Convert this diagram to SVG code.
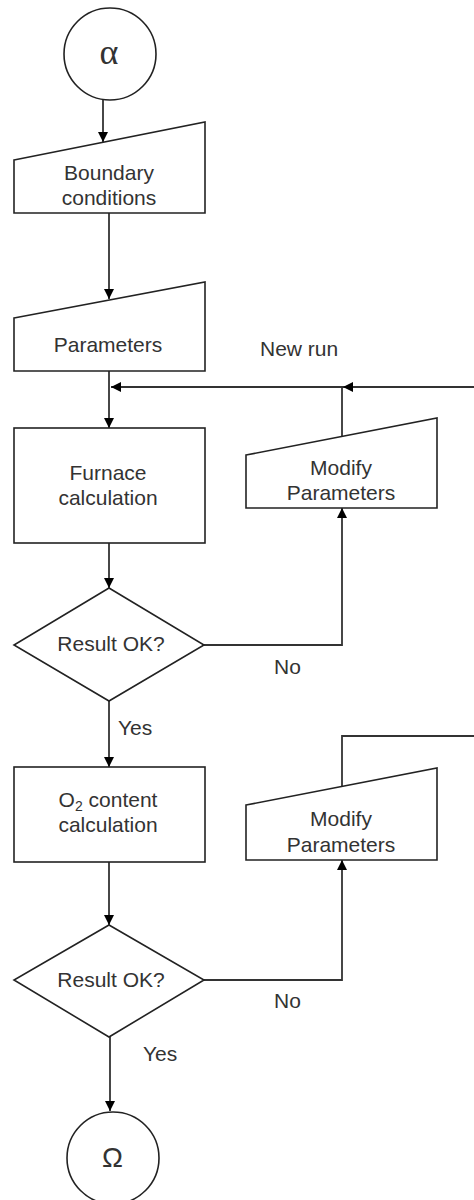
<svg xmlns="http://www.w3.org/2000/svg" width="474" height="1200" viewBox="0 0 474 1200">
<style>
.shape{fill:#fff;stroke:#222;stroke-width:1.6}
.conn{fill:none;stroke:#333;stroke-width:1.8}
.t{font-family:"Liberation Sans",Arial,sans-serif;font-size:21px;fill:#333;text-anchor:middle}
.l{font-family:"Liberation Sans",Arial,sans-serif;font-size:21px;fill:#333}
</style>
<defs>
<marker id="arr" viewBox="0 0 10 10" refX="10" refY="5" markerWidth="10" markerHeight="10" markerUnits="userSpaceOnUse" orient="auto">
<path d="M0,0 L10,5 L0,10 Z" fill="#000"/>
</marker>
</defs>
<rect width="474" height="1200" fill="#fff"/>
<g id="connectors">
<path class="conn" d="M103,100 V142" marker-end="url(#arr)"/>
<path class="conn" d="M109,213 V299" marker-end="url(#arr)"/>
<path class="conn" d="M109,371 V428" marker-end="url(#arr)"/>
<path class="conn" d="M109,543 V588" marker-end="url(#arr)"/>
<path class="conn" d="M109,701 V767" marker-end="url(#arr)"/>
<path class="conn" d="M109,862 V925" marker-end="url(#arr)"/>
<path class="conn" d="M110,1037 V1111" marker-end="url(#arr)"/>
<path class="conn" d="M474,387 H343" marker-end="url(#arr)"/>
<path class="conn" d="M343,387 H111" marker-end="url(#arr)"/>
<path class="conn" d="M342,437 V387"/>
<path class="conn" d="M204,645 H342 V508" marker-end="url(#arr)"/>
<path class="conn" d="M342,787 V736 H474"/>
<path class="conn" d="M204,980 H342 V860" marker-end="url(#arr)"/>
<text class="l" x="260" y="356">New run</text>
<text class="l" x="274" y="674">No</text>
<text class="l" x="118" y="735">Yes</text>
<text class="l" x="274" y="1008">No</text>
<text class="l" x="143" y="1061">Yes</text>
</g>
<g id="start">
<circle class="shape" cx="110" cy="54" r="46"/>
<text x="109" y="64" font-family="'Liberation Serif','Times New Roman',serif" font-size="36" fill="#333" text-anchor="middle">α</text>
</g>
<g id="boundary">
<path class="shape" d="M14,160 L205,122 L205,213 L14,213 Z"/>
<text class="t" x="109" y="180">Boundary</text>
<text class="t" x="109" y="205">conditions</text>
</g>
<g id="parameters">
<path class="shape" d="M14,318 L205,282 L205,371 L14,371 Z"/>
<text class="t" x="108" y="352">Parameters</text>
</g>
<g id="furnace">
<rect class="shape" x="14" y="428" width="191" height="115"/>
<text class="t" x="108" y="480">Furnace</text>
<text class="t" x="108" y="505">calculation</text>
</g>
<g id="decision1">
<path class="shape" d="M109,588 L204,645 L109,701 L14,645 Z"/>
<text class="t" x="111" y="651">Result OK?</text>
</g>
<g id="modify1">
<path class="shape" d="M246,455 L437,418 L437,508 L246,508 Z"/>
<text class="t" x="341" y="475">Modify</text>
<text class="t" x="341" y="500">Parameters</text>
</g>
<g id="o2calc">
<rect class="shape" x="14" y="767" width="191" height="95"/>
<text class="t" x="108" y="807">O<tspan font-size="14" dy="4">2</tspan><tspan dy="-4"> content</tspan></text>
<text class="t" x="108" y="832">calculation</text>
</g>
<g id="decision2">
<path class="shape" d="M109,925 L204,980 L109,1037 L14,980 Z"/>
<text class="t" x="111" y="987">Result OK?</text>
</g>
<g id="modify2">
<path class="shape" d="M246,805 L437,768 L437,860 L246,860 Z"/>
<text class="t" x="341" y="826">Modify</text>
<text class="t" x="341" y="852">Parameters</text>
</g>
<g id="end">
<circle class="shape" cx="113" cy="1158" r="46"/>
<text x="112.5" y="1167" font-family="'Liberation Sans',Arial,sans-serif" font-size="28" fill="#333" text-anchor="middle">Ω</text>
</g>
</svg>
